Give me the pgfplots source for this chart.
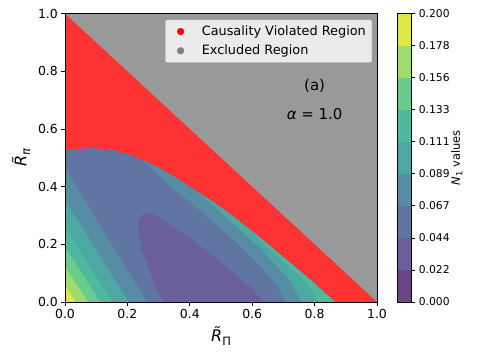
\documentclass[border=0pt]{standalone}
\usepackage{pgfplots}
\pgfplotsset{compat=1.18}
\usepackage{fontspec}
\setmainfont{DejaVu Sans}

\definecolor{exgray}{RGB}{153,153,153}
\definecolor{cvred}{RGB}{255,51,51}
\definecolor{mkgray}{RGB}{128,128,128}
\definecolor{legfill}{RGB}{235,235,235}
\definecolor{legedge}{RGB}{194,194,194}
% viridis layers, alpha 0.8 on white
\definecolor{lvA}{RGB}{108,69,135}
\definecolor{lvB}{RGB}{106,95,154}
\definecolor{lvC}{RGB}{97,117,162}
\definecolor{lvD}{RGB}{86,141,165}
\definecolor{lvE}{RGB}{77,167,163}
\definecolor{lvF}{RGB}{78,185,157}
\definecolor{lvG}{RGB}{105,204,141}
\definecolor{lvH}{RGB}{158,221,109}
\definecolor{lvI}{RGB}{224,232,71}

\begin{document}
\begin{tikzpicture}
\useasboundingbox (0,0) rectangle (478bp,359bp);
\begin{axis}[
    at={(65bp,57bp)}, anchor=south west,
    scale only axis, width=312bp, height=288.3bp,
    xmin=0, xmax=1, ymin=0, ymax=1,
    xtick={0,0.2,0.4,0.6,0.8,1}, xticklabels={0.0,0.2,0.4,0.6,0.8,1.0},
    ytick={0,0.2,0.4,0.6,0.8,1}, yticklabels={0.0,0.2,0.4,0.6,0.8,1.0},
    tick align=outside, tick pos=left,
    major tick length=3.6bp,
    every tick/.style={black, line width=0.8bp},
    axis line style={line width=0.8bp},
    tick label style={font=\fontsize{12.5}{15}\selectfont},
    axis on top,
    xlabel={\textit{R̃}\raisebox{-0.4ex}{\fontsize{11.5}{12}\selectfont Π}},
    ylabel={\textit{R̃}\raisebox{-0.4ex}{\fontsize{11.5}{12}\selectfont\itshape π}},
    label style={font=\fontsize{16}{19}\selectfont},
    xlabel style={at={(axis description cs:0.5,-0.118)}, anchor=center},
    ylabel style={at={(axis description cs:-0.141,0.5)}, anchor=center},
    legend cell align=left,
    legend style={at={(axis description cs:0.984,0.979)}, anchor=north east,
        fill=legfill, draw=legedge, rounded corners=2bp,
        font=\fontsize{12.9}{15}\selectfont, row sep=4bp,
        inner xsep=4bp, inner ysep=4bp},
    legend image code/.code={\path (0bp,0bp) (30bp,0bp); \draw[#1] plot coordinates {(11bp,0bp)};},
]
% excluded region
\addplot[fill=exgray, draw=none, forget plot] coordinates {(0,0) (1,0) (1,1) (0,1)};
% causality violated region
\addplot[fill=cvred, draw=none, forget plot] coordinates {(0,0) (1,0) (0,1)};
% N1 defined region, layer 0.044-0.067
\addplot[fill=lvC, draw=none, forget plot] coordinates {
    (0,0) (0,0.525) (0.05,0.532) (0.09,0.534) (0.15,0.528) (0.2,0.513) (0.25,0.492)
    (0.3,0.466) (0.35,0.435) (0.4,0.400) (0.43,0.379) (0.45,0.365) (0.5,0.328)
    (0.55,0.288) (0.6,0.245) (0.65,0.200) (0.7,0.155) (0.75,0.110) (0.8,0.064) (0.865,0)};
% left corner layers
\addplot[fill=lvD, draw=none, forget plot] coordinates {(0,0) (0,0.464) (0.263,0)};
\addplot[fill=lvE, draw=none, forget plot] coordinates {(0,0) (0,0.354) (0.204,0)};
\addplot[fill=lvF, draw=none, forget plot] coordinates {(0,0) (0,0.261) (0.151,0)};
\addplot[fill=lvG, draw=none, forget plot] coordinates {(0,0) (0,0.192) (0.112,0)};
\addplot[fill=lvH, draw=none, forget plot] coordinates {(0,0) (0,0.122) (0.074,0)};
\addplot[fill=lvI, draw=none, forget plot] coordinates {(0,0) (0,0.059) (0.034,0)};
% right strip layers
\addplot[fill=lvD, draw=none, forget plot] coordinates {
    (0.25,0.492) (0.3,0.466) (0.35,0.435) (0.4,0.400) (0.43,0.379) (0.45,0.365) (0.5,0.328)
    (0.55,0.288) (0.6,0.245) (0.65,0.200) (0.7,0.155) (0.75,0.110) (0.8,0.064) (0.865,0)
    (0.707,0) (0.68,0.058) (0.63,0.118) (0.55,0.205) (0.443,0.308) (0.337,0.402) (0.29,0.45)};
\addplot[fill=lvE, draw=none, forget plot] coordinates {
    (0.43,0.379) (0.45,0.365) (0.5,0.328)
    (0.55,0.288) (0.6,0.245) (0.65,0.200) (0.7,0.155) (0.75,0.110) (0.8,0.064) (0.865,0)
    (0.758,0) (0.72,0.075) (0.689,0.113) (0.63,0.183) (0.571,0.24) (0.5,0.31)};
\addplot[fill=lvF, draw=none, forget plot] coordinates {
    (0.6,0.245) (0.65,0.200) (0.7,0.155) (0.75,0.110) (0.8,0.064) (0.865,0)
    (0.815,0) (0.79,0.045) (0.75,0.092) (0.7,0.142) (0.65,0.19)};
% valley layer 0.022-0.044
\addplot[fill=lvB, draw=none, forget plot] coordinates {
    (0.316,0) (0.285,0.07) (0.262,0.134) (0.247,0.18) (0.237,0.23) (0.233,0.26)
    (0.237,0.285) (0.248,0.303) (0.262,0.31) (0.28,0.306) (0.3,0.294) (0.337,0.268)
    (0.4,0.222) (0.486,0.15) (0.55,0.093) (0.6,0.045) (0.636,0)};
\node[font=\fontsize{15}{18}\selectfont] at (axis cs:0.80,0.749) {(a)};
\node[font=\fontsize{15}{18}\selectfont] at (axis cs:0.80,0.652) {\textit{α} = 1.0};
\addlegendimage{only marks, mark=*, mark size=3.4bp, color=red}
\addlegendentry{Causality Violated Region}
\addlegendimage{only marks, mark=*, mark size=3.4bp, color=mkgray}
\addlegendentry{Excluded Region}
\end{axis}
% colour bar
\begin{axis}[
    at={(397bp,57bp)}, anchor=south west,
    scale only axis, width=14.7bp, height=288.3bp,
    xmin=0, xmax=1, ymin=0, ymax=0.2,
    xtick=\empty,
    ytick={0,0.02222,0.04444,0.06667,0.08889,0.11111,0.13333,0.15556,0.17778,0.2},
    yticklabels={0.000,0.022,0.044,0.067,0.089,0.111,0.133,0.156,0.178,0.200},
    ytick pos=right, yticklabel pos=right,
    tick align=outside, major tick length=3.6bp,
    every tick/.style={black, line width=0.8bp},
    axis line style={line width=0.8bp},
    tick label style={font=\fontsize{10.8}{13}\selectfont},
    axis on top,
    ylabel={\textit{N}\raisebox{-0.4ex}{\fontsize{8.5}{9}\selectfont 1} values},
    ylabel style={font=\fontsize{11.5}{14}\selectfont, at={(axis description cs:4.06,0.5)}, anchor=center},
]
\addplot[fill=lvA, draw=none] coordinates {(0,0) (1,0) (1,0.02222) (0,0.02222)};
\addplot[fill=lvB, draw=none] coordinates {(0,0.02222) (1,0.02222) (1,0.04444) (0,0.04444)};
\addplot[fill=lvC, draw=none] coordinates {(0,0.04444) (1,0.04444) (1,0.06667) (0,0.06667)};
\addplot[fill=lvD, draw=none] coordinates {(0,0.06667) (1,0.06667) (1,0.08889) (0,0.08889)};
\addplot[fill=lvE, draw=none] coordinates {(0,0.08889) (1,0.08889) (1,0.11111) (0,0.11111)};
\addplot[fill=lvF, draw=none] coordinates {(0,0.11111) (1,0.11111) (1,0.13333) (0,0.13333)};
\addplot[fill=lvG, draw=none] coordinates {(0,0.13333) (1,0.13333) (1,0.15556) (0,0.15556)};
\addplot[fill=lvH, draw=none] coordinates {(0,0.15556) (1,0.15556) (1,0.17778) (0,0.17778)};
\addplot[fill=lvI, draw=none] coordinates {(0,0.17778) (1,0.17778) (1,0.2) (0,0.2)};
\end{axis}
\end{tikzpicture}
\end{document}
